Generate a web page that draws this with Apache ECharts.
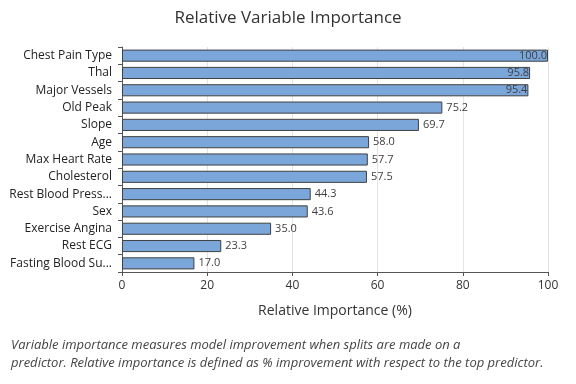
<!DOCTYPE html>
<html><head><meta charset="utf-8">
<script src="https://cdn.jsdelivr.net/npm/echarts@6/dist/echarts.min.js"></script>
<style>html,body{margin:0;padding:0;background:#fff}#c{width:576px;height:384px}</style>
</head><body><div id="c"></div>
<script>
const categories = ["Chest Pain Type","Thal","Major Vessels","Old Peak","Slope","Age","Max Heart Rate","Cholesterol","Rest Blood Press...","Sex","Exercise Angina","Rest ECG","Fasting Blood Su..."];
const importance = [100.0,95.8,95.4,75.2,69.7,58.0,57.7,57.5,44.3,43.6,35.0,23.3,17.0];
const xTicks = [0,20,40,60,80,100];
const titleText = "Relative Variable Importance";
const xName = "Relative Importance (%)";
const note = "Variable importance measures model improvement when splits are made on a\npredictor. Relative importance is defined as % improvement with respect to the top predictor.";

const font = "'Open Sans', 'Noto Sans', sans-serif";
const chart = echarts.init(document.getElementById('c'), null, {renderer:'canvas'});
chart.setOption({
  animation:false,
  title:[
    {text:titleText,left:'center',top:5,textStyle:{fontFamily:font,fontSize:17,fontWeight:'normal',color:'#333'}},
    {text:note,left:6,top:331,textStyle:{fontFamily:font,fontSize:13,fontStyle:'italic',fontWeight:'normal',color:'#444',lineHeight:18}}
  ],
  grid:{left:122,right:28,top:47,bottom:112},
  xAxis:{type:'value',min:0,max:100,interval:20,
    name:xName,nameLocation:'middle',nameGap:32,
    nameTextStyle:{fontFamily:font,fontSize:14,color:'#333'},
    axisLine:{show:true,lineStyle:{color:'#555'}},
    axisTick:{show:true,length:4,lineStyle:{color:'#555'}},
    axisLabel:{fontFamily:font,fontSize:12,color:'#333',margin:8,formatter:v=>xTicks.includes(v)?String(v):''},
    splitLine:{show:true,lineStyle:{color:'#e4e4e4'}}
  },
  yAxis:{type:'category',inverse:true,data:categories,
    axisLine:{show:true,lineStyle:{color:'#555'}},
    axisTick:{show:true,length:4,lineStyle:{color:'#555'}},
    axisLabel:{fontFamily:font,fontSize:12,color:'#222',margin:10}
  },
  series:[{type:'bar',data:importance.map(v=>({value:v,label:{position:v>90?'insideRight':'right',distance:v>90?1:4}})),
    barCategoryGap:'30%',
    itemStyle:{color:'#7aa6da',borderColor:'#404040',borderWidth:1},
    label:{show:true,fontFamily:font,fontSize:11,color:'#404040',formatter:p=>p.value.toFixed(1)}
  }]
});
</script></body></html>
